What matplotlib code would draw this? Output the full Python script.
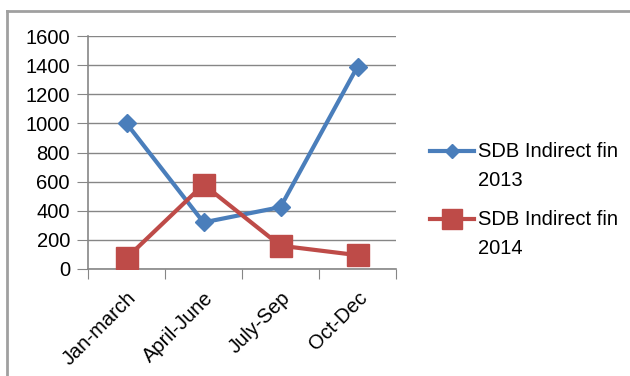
import numpy as np
import matplotlib.pyplot as plt
from matplotlib.lines import Line2D
from matplotlib import rcParams
rcParams['font.family'] = 'sans-serif'
rcParams['font.sans-serif'] = ['Liberation Sans']

# quarterly figures for the two years
quarters = ['Jan-march', 'April-June', 'July-Sep', 'Oct-Dec']
fin_2013 = [1000, 320, 425, 1390]
fin_2014 = [75, 580, 160, 95]
series_names = ['SDB Indirect fin\n2013', 'SDB Indirect fin\n2014']
yticks = [0, 200, 400, 600, 800, 1000, 1200, 1400, 1600]

blue = '#4a7ebb'
red = '#be4b48'
grey = '#868686'
fs = 14.5

fig = plt.figure(figsize=(6.3, 3.76), dpi=100)
ax = fig.add_axes([88/630, 1-269/376, (396-88)/630, (269-36)/376])

x = np.arange(len(quarters)) + 0.5
ax.plot(x, fin_2013, color=blue, lw=3, marker='D', markersize=9, zorder=3)
ax.plot(x, fin_2014, color=red, lw=3, marker='s', markersize=16, zorder=3)

ax.set_xlim(0, 4)
ax.set_ylim(0, 1600)
ax.set_yticks(yticks)
ax.set_yticklabels([str(v) for v in yticks], fontsize=fs)
ax.yaxis.grid(True, color=grey, lw=1)
ax.set_axisbelow(True)
ax.tick_params(axis='y', length=8, color=grey, pad=5)

# category boundaries get the tick marks, labels sit at the centres
ax.set_xticks(np.arange(len(quarters) + 1))
ax.set_xticklabels([])
ax.tick_params(axis='x', which='major', length=7, color=grey, direction='out')
ax.set_xticks(x, minor=True)
ax.set_xticklabels(quarters, minor=True, rotation=45, ha='right', va='top',
                   rotation_mode='anchor', fontsize=fs)
ax.tick_params(axis='x', which='minor', length=0, pad=14)

for s in ['top', 'right']:
    ax.spines[s].set_visible(False)
for s in ['left', 'bottom']:
    ax.spines[s].set_color(grey)
    ax.spines[s].set_linewidth(1.2)

# legend drawn by hand so the key sits on the first text line
leg_y = [1-151/376, 1-219/376]
styles = [(blue, 'D', 7), (red, 's', 14)]
for (c, m, ms), yy, name in zip(styles, leg_y, series_names):
    fig.add_artist(Line2D([430/630, 474/630], [yy, yy], color=c, lw=3,
                          transform=fig.transFigure))
    fig.add_artist(Line2D([452/630], [yy], color=c, marker=m, markersize=ms,
                          transform=fig.transFigure))
    fig.text(478/630, yy + 9/376, name, fontsize=fs, va='top', ha='left',
             linespacing=1.65)

# outer chart frame
fig.add_artist(Line2D([7/630, 7/630], [0, 1-11/376], color='#a0a0a0', lw=2,
                      transform=fig.transFigure))
fig.add_artist(Line2D([7/630, 1], [1-11/376, 1-11/376], color='#a0a0a0', lw=2,
                      transform=fig.transFigure))

fig.savefig('out.png', dpi=100)
